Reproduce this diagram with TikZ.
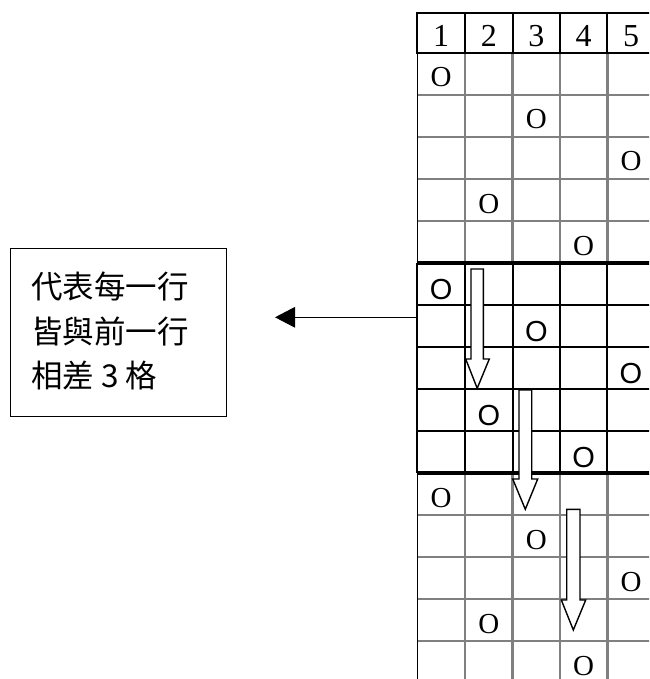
\documentclass[tikz,border=0pt]{standalone}
\usepackage{fontspec}
\newfontfamily\cjkfont{Noto Sans CJK TC}
\newfontfamily\serifnum{Liberation Serif}
\newfontfamily\sansnum{Liberation Sans}
\usetikzlibrary{arrows.meta}
\tikzset{
  graygrid/.style={draw=black!50, line width=2.6pt},
  blackgrid/.style={draw=black, line width=1.8pt},
  thickgrid/.style={draw=black, line width=3.3pt},
  headnum/.style={inner sep=0pt, anchor=base, font=\serifnum\fontsize{32}{32}\selectfont},
  serifO/.style={inner sep=0pt, anchor=base, font=\serifnum\fontsize{29}{29}\selectfont},
  sansO/.style={inner sep=0pt, anchor=base, font=\sansnum\fontsize{29}{29}\selectfont},
  boxtext/.style={inner sep=0pt, anchor=base west, font=\cjkfont\fontsize{31.5}{31.5}\selectfont},
  blockarrow/.style={draw=black, fill=white, line width=1.4pt, line join=miter},
}
\newcommand\blkarrow[7]{% left right top shaftbottom headleft headright tip (x,y)
  \filldraw[blockarrow] (#1,#3) -- (#2,#3) -- (#2,#4) -- (#6,#4) -- #7 -- (#5,#4) -- (#1,#4) -- cycle;}
\begin{document}
\begin{tikzpicture}[x=1pt,y=-1pt]
\useasboundingbox (0,0) rectangle (649,679);
\begin{scope}
\clip (0,0) rectangle (649,679);
% top gray section
\foreach \x in {465,512.7,560,607.3}{
  \draw[graygrid] (\x,53) -- (\x,263);
  \draw[graygrid] (\x,473) -- (\x,690);
}
\foreach \y in {95,137,179,221,515,557,599,641}{
  \draw[graygrid] (417.3,\y) -- (660,\y);
}
\draw[black, line width=1pt] (417.3,53) -- (417.3,263);
\draw[black, line width=1pt] (417.3,473) -- (417.3,690);
% middle black section
\foreach \x in {417.3,465,512.7,560,607.3}{
  \draw[blackgrid] (\x,263) -- (\x,473);
}
\foreach \y in {305,347,389,431}{
  \draw[blackgrid] (417.3,\y) -- (660,\y);
}
\draw[thickgrid] (416.5,263) -- (660,263);
\draw[thickgrid] (416.5,473) -- (660,473);
% header
\foreach \x in {417.3,465,512.7,560,607.3}{
  \draw[black, line width=2pt] (\x,12) -- (\x,53);
}
\draw[black, line width=2.4pt] (416.3,12.8) -- (660,12.8);
\draw[black, line width=2.2pt] (416.3,52.8) -- (660,52.8);
\foreach \c/\xc in {1/441.2,2/488.9,3/536.4,4/583.7,5/631}{
  \node[headnum] (h\c) at (\xc,47) {\c};
}
% O marks
\foreach \r/\xc in {1/441.2,2/536.4,3/631,4/488.9,5/583.7}{
  \pgfmathsetmacro\yb{53+42*\r-8}
  \node[serifO] (ot\r) at (\xc,\yb) {O};
  \pgfmathsetmacro\ym{263+42*\r-5.5}
  \node[sansO] (om\r) at (\xc,\ym) {O};
  \pgfmathsetmacro\yl{473+42*\r-8}
  \node[serifO] (ob\r) at (\xc,\yl) {O};
}
% block arrows
\blkarrow{471}{483.3}{269}{359}{465.7}{489.3}{(477.2,388.3)}
\blkarrow{519}{531.7}{390}{479}{512.7}{537.7}{(525.3,509.3)}
\blkarrow{566.7}{580}{509.3}{600}{561.3}{585.7}{(573.3,630)}
\end{scope}
% explanation box
\node[draw=black, line width=1.3pt, minimum width=216pt, minimum height=168pt, inner sep=0pt, anchor=north west] (box) at (9.5,247.5) {};
\node[boxtext] (t1) at (31,298.5) {代表每一行};
\node[boxtext] (t2) at (31,343.5) {皆與前一行};
\node[boxtext] (t3) at (31,387.5) {相差 3 格};
% pointer arrow
\coordinate (gl) at (417.3,317.3);
\coordinate (tip) at (275,317.3);
\draw[black, line width=1.4pt, -{Triangle[length=20pt,width=20.5pt]}] (gl) -- (tip);
\end{tikzpicture}
\end{document}
